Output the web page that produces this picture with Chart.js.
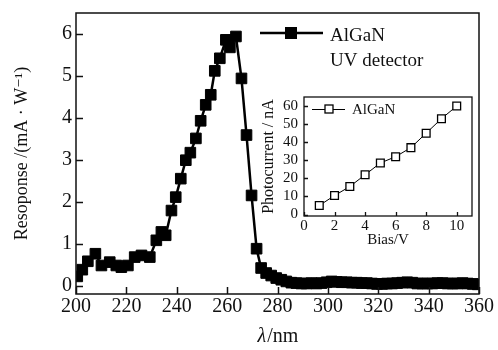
<!DOCTYPE html>
<html><head><meta charset="utf-8">
<script src="https://cdn.jsdelivr.net/npm/chart.js@4/dist/chart.umd.min.js"></script>
<style>
html,body{margin:0;padding:0;background:#fff;}
#wrap{position:relative;width:498px;height:350px;overflow:hidden;}
#main{position:absolute;left:0;top:0;}
#inset{position:absolute;left:250px;top:88px;}
</style></head><body>
<div id="wrap"><canvas id="main" width="498" height="350"></canvas><canvas id="inset" width="235" height="170"></canvas></div>
<script>
// ---- main spectrum data ----
const wavelength = [200.5,202.5,204.7,207.7,210.1,213.4,216,218,220.6,223.3,226,229.3,231.9,233.9,235.6,237.9,239.6,241.6,243.6,245.4,247.6,249.5,251.5,253.5,255.1,257.1,259.5,261.1,263.5,265.7,267.7,269.7,271.7,273.5,275.5,277.5,279.5,281.5,283.5,285.5,287.5,289.5,291.5,293.5,295.5,297.5,299.5,301.5,303.5,305.5,307.5,309.5,311.5,313.5,315.5,317.5,319.5,321.5,323.5,325.5,327.5,329.5,331.5,333.5,335.5,337.5,339.5,341.5,343.5,345.5,347.5,349.5,351.5,353.5,355.5,357.5,359.5];
const response = [0.22,0.38,0.58,0.76,0.48,0.56,0.48,0.44,0.48,0.68,0.72,0.68,1.08,1.28,1.2,1.79,2.11,2.55,2.99,3.17,3.51,3.93,4.31,4.55,5.12,5.42,5.86,5.68,5.94,4.94,3.59,2.15,0.88,0.42,0.3,0.24,0.18,0.14,0.1,0.07,0.06,0.05,0.05,0.06,0.05,0.06,0.08,0.1,0.09,0.08,0.08,0.07,0.07,0.06,0.06,0.05,0.04,0.04,0.05,0.05,0.06,0.07,0.08,0.07,0.05,0.05,0.05,0.05,0.06,0.06,0.05,0.05,0.05,0.06,0.05,0.04,0.03];
const xTicks = [200,220,240,260,280,300,320,340,360];
const yTicks = [0,1,2,3,4,5,6];
const mainLegendLines = ['AlGaN','UV detector'];
const xTitleSymbol = 'λ';
const xTitleUnit = '/nm';
const yTitle = 'Resoponse /(mA · W⁻¹)';

// ---- inset data ----
const biasV = [1,2,3,4,5,6,7,8,9,10];
const photocurrent = [5,10.5,15.5,22,28.5,32,37,45,53,60];
const insetXTicks = [0,2,4,6,8,10];
const insetYTicks = [0,10,20,30,40,50,60];
const insetLegend = 'AlGaN';
const insetXTitle = 'Bias/V';
const insetYTitle = 'Photocurrent / nA';

const SERIF = '"Liberation Serif","DejaVu Serif",serif';
const INK = '#111';

function frameAndTicks(tickLen, lw){
  return {
    id:'frameAndTicks',
    afterDatasetsDraw(chart){
      const {ctx, chartArea:a, scales:{x, y}} = chart;
      ctx.save();
      ctx.strokeStyle = INK;
      ctx.lineWidth = lw;
      ctx.beginPath();
      for (const t of x.ticks){
        const px = Math.round(x.getPixelForValue(t.value)) + 0.5;
        ctx.moveTo(px, a.bottom); ctx.lineTo(px, a.bottom - tickLen);
      }
      for (const t of y.ticks){
        const py = Math.round(y.getPixelForValue(t.value)) + 0.5;
        ctx.moveTo(a.left, py); ctx.lineTo(a.left + tickLen, py);
      }
      ctx.stroke();
      ctx.lineWidth = lw;
      ctx.strokeRect(a.left, a.top, a.right - a.left, a.bottom - a.top);
      ctx.restore();
    }
  };
}

function fixBox(w, h){
  return function(scale){
    if (w !== null) scale.width = w;
    if (h !== null) scale.height = h;
    scale.paddingLeft = 0; scale.paddingRight = 0; scale.paddingTop = 0; scale.paddingBottom = 0;
  };
}

const mainExtras = {
  id:'mainExtras',
  afterDraw(chart){
    const {ctx, chartArea:a} = chart;
    ctx.save();
    // legend
    const ly = a.top + 20;
    ctx.strokeStyle = '#000'; ctx.lineWidth = 2.5;
    ctx.beginPath(); ctx.moveTo(a.left + 184, ly); ctx.lineTo(a.left + 247, ly); ctx.stroke();
    ctx.fillStyle = '#000';
    ctx.fillRect(a.left + 209, ly - 6, 12, 12);
    ctx.fillStyle = INK;
    ctx.font = '19px ' + SERIF;
    ctx.textBaseline = 'alphabetic';
    ctx.textAlign = 'left';
    ctx.fillText(mainLegendLines[0], a.left + 254, a.top + 28);
    ctx.fillText(mainLegendLines[1], a.left + 254, a.top + 53);
    // x title with italic lambda
    const cx = (a.left + a.right) / 2;
    ctx.font = 'italic 20px ' + SERIF;
    const w1 = ctx.measureText(xTitleSymbol).width;
    ctx.font = '20px ' + SERIF;
    const w2 = ctx.measureText(xTitleUnit).width;
    const sx = cx - (w1 + w2) / 2;
    ctx.font = 'italic 20px ' + SERIF;
    ctx.fillText(xTitleSymbol, sx, 342);
    ctx.font = '20px ' + SERIF;
    ctx.fillText(xTitleUnit, sx + w1 + 1, 342);
    ctx.restore();
  }
};

new Chart(document.getElementById('main'), {
  type:'line',
  data:{ datasets:[{
    data: wavelength.map((w,i)=>({x:w, y:response[i]})),
    borderColor:'#000', borderWidth:2.5, tension:0,
    pointStyle:'rect', pointRadius:7.5, pointBackgroundColor:'#000', pointBorderColor:'#000', pointBorderWidth:1
  }]},
  options:{
    responsive:false, animation:false, devicePixelRatio:1,
    layout:{padding:{top:13, right:19, left:0, bottom:0}},
    plugins:{legend:{display:false}, tooltip:{enabled:false}},
    scales:{
      x:{type:'linear', min:200, max:360,
        afterBuildTicks(s){ s.ticks = xTicks.map(v=>({value:v})); },
        afterFit: fixBox(null, 56),
        grid:{display:false, drawTicks:false}, border:{display:false},
        ticks:{autoSkip:false, maxRotation:0, padding:1, color:INK, font:{family:SERIF, size:20}}
      },
      y:{type:'linear', min:-0.2, max:6.5,
        afterBuildTicks(s){ s.ticks = yTicks.map(v=>({value:v})); },
        afterFit: fixBox(76, null),
        grid:{display:false, drawTicks:false}, border:{display:false},
        ticks:{autoSkip:false, padding:4, color:INK, font:{family:SERIF, size:20}},
        title:{display:true, text:yTitle, color:INK, font:{family:SERIF, size:18}, padding:{top:11, bottom:0}}
      }
    }
  },
  plugins:[frameAndTicks(7, 1.5), mainExtras]
});

const insetExtras = {
  id:'insetExtras',
  afterDraw(chart){
    const {ctx, chartArea:a} = chart;
    ctx.save();
    const ly = a.top + 12;
    ctx.strokeStyle = '#000'; ctx.lineWidth = 1;
    ctx.beginPath(); ctx.moveTo(a.left + 8, ly + 0.5); ctx.lineTo(a.left + 41, ly + 0.5); ctx.stroke();
    ctx.fillStyle = '#fff';
    ctx.fillRect(a.left + 21, ly - 4, 8, 8);
    ctx.lineWidth = 1.3;
    ctx.strokeRect(a.left + 21, ly - 4, 8, 8);
    ctx.fillStyle = INK;
    ctx.font = '15px ' + SERIF;
    ctx.textBaseline = 'alphabetic';
    ctx.fillText(insetLegend, a.left + 48, ly + 5);
    ctx.restore();
  }
};

new Chart(document.getElementById('inset'), {
  type:'line',
  data:{ datasets:[{
    data: biasV.map((b,i)=>({x:b, y:photocurrent[i]})),
    borderColor:'#000', borderWidth:1, tension:0,
    pointStyle:'rect', pointRadius:5.5, pointBackgroundColor:'#fff', pointBorderColor:'#000', pointBorderWidth:1.3
  }]},
  options:{
    responsive:false, animation:false, devicePixelRatio:1,
    layout:{padding:{top:9, right:13, left:0, bottom:0}},
    plugins:{legend:{display:false}, tooltip:{enabled:false}},
    scales:{
      x:{type:'linear', min:0, max:11,
        afterBuildTicks(s){ s.ticks = insetXTicks.map(v=>({value:v})); },
        afterFit: fixBox(null, 42),
        grid:{display:false, drawTicks:false}, border:{display:false},
        ticks:{autoSkip:false, maxRotation:0, padding:1, color:INK, font:{family:SERIF, size:15}},
        title:{display:true, text:insetXTitle, color:INK, font:{family:SERIF, size:15}, padding:{top:0, bottom:9}}
      },
      y:{type:'linear', min:-0.8, max:65,
        afterBuildTicks(s){ s.ticks = insetYTicks.map(v=>({value:v})); },
        afterFit: fixBox(54, null),
        grid:{display:false, drawTicks:false}, border:{display:false},
        ticks:{autoSkip:false, padding:6, color:INK, font:{family:SERIF, size:15}},
        title:{display:true, text:insetYTitle, color:INK, font:{family:SERIF, size:16}, padding:{top:9, bottom:0}}
      }
    }
  },
  plugins:[frameAndTicks(4, 1.3), insetExtras]
});
</script>
</body></html>
